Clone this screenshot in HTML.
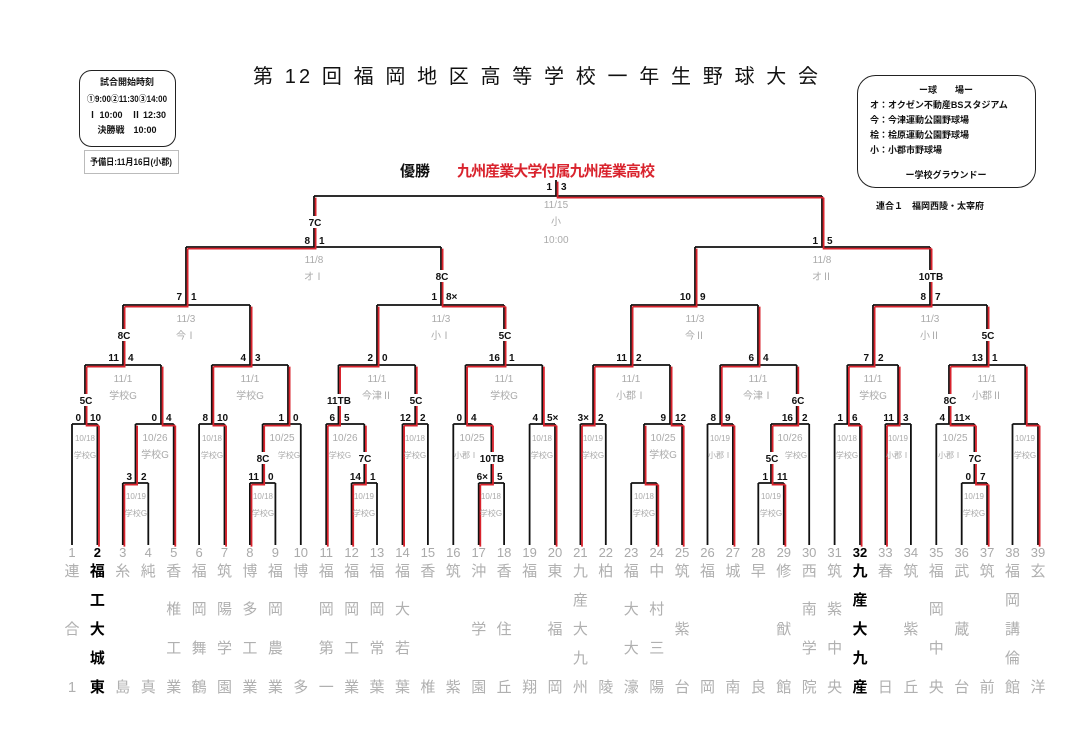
<!DOCTYPE html>
<html><head><meta charset="utf-8"><style>
html,body{margin:0;padding:0;background:#fff;}
svg{display:block;font-family:"Liberation Sans","Noto Sans CJK JP",sans-serif;}
.s{font-size:10px;font-weight:bold;fill:#111;}
.g{font-size:10px;fill:#aaa;text-anchor:middle;}
.gs{font-size:8px;fill:#aaa;text-anchor:middle;}
.lb{font-size:10px;font-weight:bold;fill:#111;text-anchor:middle;}
.n{font-size:13px;fill:#aaa;text-anchor:middle;}
.t{font-size:15px;fill:#b0b0b0;text-anchor:middle;}
.tb{font-size:15px;fill:#000;text-anchor:middle;font-weight:bold;}
.hb{font-size:9px;font-weight:bold;fill:#111;}
</style></head><body>
<svg width="1084" height="741" viewBox="0 0 1084 741">
<rect width="1084" height="741" fill="#fff"/>
<text x="253" y="83" font-size="20" fill="#111" textLength="565" lengthAdjust="spacing">第 12 回 福 岡 地 区 高 等 学 校 一 年 生 野 球 大 会</text>
<rect x="79.5" y="70.5" width="96" height="76" rx="12" fill="none" stroke="#222" stroke-width="1"/>
<text class="hb" x="127" y="85" text-anchor="middle">試合開始時刻</text>
<text class="hb" x="127" y="102" text-anchor="middle" font-size="8" textLength="80" lengthAdjust="spacingAndGlyphs">①9:00②11:30③14:00</text>
<text class="hb" x="127" y="118" text-anchor="middle" font-size="8">Ⅰ 10:00　Ⅱ 12:30</text>
<text class="hb" x="127" y="133" text-anchor="middle" font-size="8">決勝戦　10:00</text>
<rect x="84.5" y="150.5" width="94" height="23" fill="none" stroke="#bbb" stroke-width="1"/>
<text class="hb" x="90" y="165" font-size="8" textLength="82" lengthAdjust="spacingAndGlyphs">予備日:11月16日(小郡)</text>
<rect x="857.5" y="75.5" width="178" height="112" rx="18" fill="none" stroke="#222" stroke-width="1"/>
<text class="hb" x="946" y="93" text-anchor="middle">ー球　　場ー</text>
<text class="hb" x="870" y="108">オ：オクゼン不動産BSスタジアム</text>
<text class="hb" x="870" y="123">今：今津運動公園野球場</text>
<text class="hb" x="870" y="138">桧：桧原運動公園野球場</text>
<text class="hb" x="870" y="153">小：小郡市野球場</text>
<text class="hb" x="946" y="178" text-anchor="middle">ー学校グラウンドー</text>
<text class="hb" x="876" y="209">連合１　福岡西陵・太宰府</text>
<text x="400" y="176" font-size="15" font-weight="bold" fill="#111">優勝</text>
<text x="457" y="176" font-size="15" font-weight="bold" fill="#d9232d" textLength="198">九州産業大学付属九州産業高校</text>

<path fill="none" stroke="#111" stroke-width="1.8" d="M72 545V424 M97.4 545V424 M122.8 545V483 M148.3 545V483 M173.7 545V424 M199.1 545V424 M224.5 545V424 M249.9 545V483 M275.4 545V483 M300.8 545V424 M326.2 545V424 M351.6 545V483 M377 545V483 M402.5 545V424 M427.9 545V424 M453.3 545V424 M478.7 545V483 M504.1 545V483 M529.6 545V424 M555 545V424 M580.4 545V424 M605.8 545V424 M631.2 545V483 M656.7 545V483 M682.1 545V424 M707.5 545V424 M732.9 545V424 M758.3 545V483 M783.8 545V483 M809.2 545V424 M834.6 545V424 M860 545V424 M885.4 545V424 M910.9 545V424 M936.3 545V424 M961.7 545V483 M987.1 545V483 M1012.5 545V424 M1038 545V424
M122.8 483H148.3 M135.5 483V424 M249.9 483H275.4 M262.6 483V424 M351.6 483H377 M364.3 483V424 M478.7 483H504.1 M491.4 483V424 M631.2 483H656.7 M644 483V424 M758.3 483H783.8 M771 483V424 M961.7 483H987.1 M974.4 483V424
M72 424H97.4 M85 424V365 M135.5 424H173.7 M161 424V365 M199.1 424H224.5 M211.8 424V365 M262.6 424H300.8 M288 424V365 M326.2 424H364.3 M338.5 424V365 M402.5 424H427.9 M415.2 424V365 M453.3 424H491.4 M465.5 424V365 M529.6 424H555 M542.3 424V365 M580.4 424H605.8 M593.1 424V365 M644 424H682.1 M670 424V365 M707.5 424H732.9 M720.2 424V365 M771 424H809.2 M796.7 424V365 M834.6 424H860 M847.3 424V365 M885.4 424H910.9 M898.1 424V365 M936.3 424H974.4 M949 424V365 M1012.5 424H1038 M1025.2 424V365
M85 365H161 M123 365V305 M211.8 365H288 M250 365V305 M338.5 365H415.2 M377 365V305 M465.5 365H542.3 M504 365V305 M593.1 365H670 M631 365V305 M720.2 365H796.7 M758 365V305 M847.3 365H898.1 M873 365V305 M949 365H1025.2 M987 365V305
M123 305H250 M186 305V247 M377 305H504 M441 305V247 M631 305H758 M695 305V247 M873 305H987 M930 305V247
M186 247H441 M314 247V196 M695 247H930 M822 247V196 M314 196H822 M556 196V180"/>
<path fill="none" stroke="#d9232d" stroke-width="1.8" transform="translate(1.6,1.6)" d="M97.4 545V424 M122.8 545V483 M173.7 545V424 M224.5 545V424 M249.9 545V483 M326.2 545V424 M351.6 545V483 M402.5 545V424 M478.7 545V483 M555 545V424 M580.4 545V424 M656.7 545V483 M682.1 545V424 M732.9 545V424 M783.8 545V483 M860 545V424 M885.4 545V424 M987.1 545V483 M1038 545V424
M122.8 483H135.5V424 M249.9 483H262.6V424 M351.6 483H364.3V424 M478.7 483H491.4V424 M656.7 483H644V424 M783.8 483H771V424 M987.1 483H974.4V424
M97.4 424H85V365 M173.7 424H161V365 M224.5 424H211.8V365 M262.6 424H288V365 M326.2 424H338.5V365 M402.5 424H415.2V365 M491.4 424H465.5V365 M555 424H542.3V365 M580.4 424H593.1V365 M682.1 424H670V365 M732.9 424H720.2V365 M771 424H796.7V365 M860 424H847.3V365 M885.4 424H898.1V365 M974.4 424H949V365 M1038 424H1025.2V365
M85 365H123V305 M211.8 365H250V305 M338.5 365H377V305 M465.5 365H504V305 M593.1 365H631V305 M720.2 365H758V305 M847.3 365H873V305 M949 365H987V305
M123 305H186V247 M504 305H441V247 M631 305H695V247 M873 305H930V247
M186 247H314V196 M930 247H822V196 M822 196H556V180"/>

<g fill="#fff">
<rect x="76" y="394" width="20" height="12"/><rect x="326" y="394" width="26" height="12"/><rect x="406" y="394" width="20" height="12"/><rect x="788" y="394" width="20" height="12"/><rect x="940" y="394" width="20" height="12"/>
<rect x="253" y="452" width="20" height="12"/><rect x="355" y="452" width="20" height="12"/><rect x="479" y="452" width="26" height="12"/><rect x="762" y="452" width="20" height="12"/><rect x="965" y="452" width="20" height="12"/>
<rect x="114" y="329" width="20" height="12"/><rect x="495" y="329" width="20" height="12"/><rect x="978" y="329" width="20" height="12"/>
<rect x="432" y="270" width="20" height="12"/><rect x="917" y="270" width="28" height="12"/>
<rect x="305" y="216" width="20" height="12"/>
</g>
<g class="lb">
<text x="86" y="404">5C</text><text x="339" y="404">11TB</text><text x="416" y="404">5C</text><text x="798" y="404">6C</text><text x="950" y="404">8C</text>
<text x="263" y="462">8C</text><text x="365" y="462">7C</text><text x="492" y="462">10TB</text><text x="772" y="462">5C</text><text x="975" y="462">7C</text>
<text x="124" y="339">8C</text><text x="505" y="339">5C</text><text x="988" y="339">5C</text>
<text x="442" y="280">8C</text><text x="931" y="280">10TB</text>
<text x="315" y="226">7C</text>
</g>

<g class="s" text-anchor="end">
<text x="132" y="480">3</text><text x="259" y="480">11</text><text x="361" y="480">14</text><text x="488" y="480">6×</text><text x="768" y="480">1</text><text x="971" y="480">0</text>
<text x="81" y="421">0</text><text x="157" y="421">0</text><text x="208" y="421">8</text><text x="284" y="421">1</text><text x="335" y="421">6</text><text x="411" y="421">12</text><text x="462" y="421">0</text><text x="538" y="421">4</text><text x="589" y="421">3×</text><text x="666" y="421">9</text><text x="716" y="421">8</text><text x="793" y="421">16</text><text x="843" y="421">1</text><text x="894" y="421">11</text><text x="945" y="421">4</text>
<text x="119" y="361">11</text><text x="246" y="361">4</text><text x="373" y="361">2</text><text x="500" y="361">16</text><text x="627" y="361">11</text><text x="754" y="361">6</text><text x="869" y="361">7</text><text x="983" y="361">13</text>
<text x="182" y="300">7</text><text x="437" y="300">1</text><text x="691" y="300">10</text><text x="926" y="300">8</text>
<text x="310" y="244">8</text><text x="818" y="244">1</text>
<text x="552" y="190">1</text>
</g>
<g class="s" text-anchor="start">
<text x="141" y="480">2</text><text x="268" y="480">0</text><text x="370" y="480">1</text><text x="497" y="480">5</text><text x="777" y="480">11</text><text x="980" y="480">7</text>
<text x="90" y="421">10</text><text x="166" y="421">4</text><text x="217" y="421">10</text><text x="293" y="421">0</text><text x="344" y="421">5</text><text x="420" y="421">2</text><text x="471" y="421">4</text><text x="547" y="421">5×</text><text x="598" y="421">2</text><text x="675" y="421">12</text><text x="725" y="421">9</text><text x="802" y="421">2</text><text x="852" y="421">6</text><text x="903" y="421">3</text><text x="954" y="421">11×</text>
<text x="128" y="361">4</text><text x="255" y="361">3</text><text x="382" y="361">0</text><text x="509" y="361">1</text><text x="636" y="361">2</text><text x="763" y="361">4</text><text x="878" y="361">2</text><text x="992" y="361">1</text>
<text x="191" y="300">1</text><text x="446" y="300">8×</text><text x="700" y="300">9</text><text x="935" y="300">7</text>
<text x="319" y="244">1</text><text x="827" y="244">5</text>
<text x="561" y="190">3</text>
</g>

<g class="g">
<text x="556" y="208">11/15</text><text x="556" y="225">小</text><text x="556" y="243">10:00</text>
<text x="314" y="263">11/8</text><text x="314" y="280">オⅠ</text><text x="822" y="263">11/8</text><text x="822" y="280">オⅡ</text>
<text x="186" y="322">11/3</text><text x="186" y="339">今Ⅰ</text><text x="441" y="322">11/3</text><text x="441" y="339">小Ⅰ</text><text x="695" y="322">11/3</text><text x="695" y="339">今Ⅱ</text><text x="930" y="322">11/3</text><text x="930" y="339">小Ⅱ</text>
<text x="123" y="382">11/1</text><text x="123" y="399">学校G</text>
<text x="250" y="382">11/1</text><text x="250" y="399">学校G</text>
<text x="377" y="382">11/1</text><text x="377" y="399">今津Ⅱ</text>
<text x="504" y="382">11/1</text><text x="504" y="399">学校G</text>
<text x="631" y="382">11/1</text><text x="631" y="399">小郡Ⅰ</text>
<text x="758" y="382">11/1</text><text x="758" y="399">今津Ⅰ</text>
<text x="873" y="382">11/1</text><text x="873" y="399">学校G</text>
<text x="987" y="382">11/1</text><text x="987" y="399">小郡Ⅱ</text>
<text x="155" y="441">10/26</text><text x="155" y="458">学校G</text>
<text x="282" y="441">10/25</text>
<text x="345" y="441">10/26</text>
<text x="472" y="441">10/25</text>
<text x="663" y="441">10/25</text><text x="663" y="458">学校G</text>
<text x="790" y="441">10/26</text>
<text x="955" y="441">10/25</text>
</g>
<g class="gs">
<text x="85" y="441">10/18</text><text x="85" y="458">学校G</text>
<text x="212" y="441">10/18</text><text x="212" y="458">学校G</text>
<text x="289" y="458">学校G</text>
<text x="340" y="458">学校G</text>
<text x="415" y="441">10/18</text><text x="415" y="458">学校G</text>
<text x="466" y="458">小郡Ⅰ</text>
<text x="542" y="441">10/18</text><text x="542" y="458">学校G</text>
<text x="593" y="441">10/19</text><text x="593" y="458">学校G</text>
<text x="720" y="441">10/19</text><text x="720" y="458">小郡Ⅰ</text>
<text x="796" y="458">学校G</text>
<text x="847" y="441">10/18</text><text x="847" y="458">学校G</text>
<text x="898" y="441">10/19</text><text x="898" y="458">小郡Ⅰ</text>
<text x="950" y="458">小郡Ⅰ</text>
<text x="1025" y="441">10/19</text><text x="1025" y="458">学校G</text>
<text x="136" y="499">10/19</text><text x="136" y="516">学校G</text>
<text x="263" y="499">10/18</text><text x="263" y="516">学校G</text>
<text x="364" y="499">10/19</text><text x="364" y="516">学校G</text>
<text x="491" y="499">10/18</text><text x="491" y="516">学校G</text>
<text x="644" y="499">10/18</text><text x="644" y="516">学校G</text>
<text x="771" y="499">10/19</text><text x="771" y="516">学校G</text>
<text x="974" y="499">10/19</text><text x="974" y="516">学校G</text>
</g>

<g class="n">
<text x="72" y="557">1</text><text x="97.4" y="557" fill="#000" font-weight="bold">2</text><text x="122.8" y="557">3</text><text x="148.3" y="557">4</text><text x="173.7" y="557">5</text><text x="199.1" y="557">6</text><text x="224.5" y="557">7</text><text x="249.9" y="557">8</text><text x="275.4" y="557">9</text><text x="300.8" y="557">10</text><text x="326.2" y="557">11</text><text x="351.6" y="557">12</text><text x="377" y="557">13</text><text x="402.5" y="557">14</text><text x="427.9" y="557">15</text><text x="453.3" y="557">16</text><text x="478.7" y="557">17</text><text x="504.1" y="557">18</text><text x="529.6" y="557">19</text><text x="555" y="557">20</text><text x="580.4" y="557">21</text><text x="605.8" y="557">22</text><text x="631.2" y="557">23</text><text x="656.7" y="557">24</text><text x="682.1" y="557">25</text><text x="707.5" y="557">26</text><text x="732.9" y="557">27</text><text x="758.3" y="557">28</text><text x="783.8" y="557">29</text><text x="809.2" y="557">30</text><text x="834.6" y="557">31</text><text x="860" y="557" fill="#000" font-weight="bold">32</text><text x="885.4" y="557">33</text><text x="910.9" y="557">34</text><text x="936.3" y="557">35</text><text x="961.7" y="557">36</text><text x="987.1" y="557">37</text><text x="1012.5" y="557">38</text><text x="1038" y="557">39</text>
</g>

<g class="t">
<text x="72"><tspan x="72" y="576">連</tspan><tspan x="72" y="634">合</tspan><tspan x="72" y="692">1</tspan></text>
<text x="122.8"><tspan x="122.8" y="576">糸</tspan><tspan x="122.8" y="692">島</tspan></text>
<text x="148.3"><tspan x="148.3" y="576">純</tspan><tspan x="148.3" y="692">真</tspan></text>
<text x="173.7"><tspan x="173.7" y="576">香</tspan><tspan x="173.7" y="614">椎</tspan><tspan x="173.7" y="653">工</tspan><tspan x="173.7" y="692">業</tspan></text>
<text x="199.1"><tspan x="199.1" y="576">福</tspan><tspan x="199.1" y="614">岡</tspan><tspan x="199.1" y="653">舞</tspan><tspan x="199.1" y="692">鶴</tspan></text>
<text x="224.5"><tspan x="224.5" y="576">筑</tspan><tspan x="224.5" y="614">陽</tspan><tspan x="224.5" y="653">学</tspan><tspan x="224.5" y="692">園</tspan></text>
<text x="249.9"><tspan x="249.9" y="576">博</tspan><tspan x="249.9" y="614">多</tspan><tspan x="249.9" y="653">工</tspan><tspan x="249.9" y="692">業</tspan></text>
<text x="275.4"><tspan x="275.4" y="576">福</tspan><tspan x="275.4" y="614">岡</tspan><tspan x="275.4" y="653">農</tspan><tspan x="275.4" y="692">業</tspan></text>
<text x="300.8"><tspan x="300.8" y="576">博</tspan><tspan x="300.8" y="692">多</tspan></text>
<text x="326.2"><tspan x="326.2" y="576">福</tspan><tspan x="326.2" y="614">岡</tspan><tspan x="326.2" y="653">第</tspan><tspan x="326.2" y="692">一</tspan></text>
<text x="351.6"><tspan x="351.6" y="576">福</tspan><tspan x="351.6" y="614">岡</tspan><tspan x="351.6" y="653">工</tspan><tspan x="351.6" y="692">業</tspan></text>
<text x="377"><tspan x="377" y="576">福</tspan><tspan x="377" y="614">岡</tspan><tspan x="377" y="653">常</tspan><tspan x="377" y="692">葉</tspan></text>
<text x="402.5"><tspan x="402.5" y="576">福</tspan><tspan x="402.5" y="614">大</tspan><tspan x="402.5" y="653">若</tspan><tspan x="402.5" y="692">葉</tspan></text>
<text x="427.9"><tspan x="427.9" y="576">香</tspan><tspan x="427.9" y="692">椎</tspan></text>
<text x="453.3"><tspan x="453.3" y="576">筑</tspan><tspan x="453.3" y="692">紫</tspan></text>
<text x="478.7"><tspan x="478.7" y="576">沖</tspan><tspan x="478.7" y="634">学</tspan><tspan x="478.7" y="692">園</tspan></text>
<text x="504.1"><tspan x="504.1" y="576">香</tspan><tspan x="504.1" y="634">住</tspan><tspan x="504.1" y="692">丘</tspan></text>
<text x="529.6"><tspan x="529.6" y="576">福</tspan><tspan x="529.6" y="692">翔</tspan></text>
<text x="555"><tspan x="555" y="576">東</tspan><tspan x="555" y="634">福</tspan><tspan x="555" y="692">岡</tspan></text>
<text x="580.4"><tspan x="580.4" y="576">九</tspan><tspan x="580.4" y="605">産</tspan><tspan x="580.4" y="634">大</tspan><tspan x="580.4" y="663">九</tspan><tspan x="580.4" y="692">州</tspan></text>
<text x="605.8"><tspan x="605.8" y="576">柏</tspan><tspan x="605.8" y="692">陵</tspan></text>
<text x="631.2"><tspan x="631.2" y="576">福</tspan><tspan x="631.2" y="614">大</tspan><tspan x="631.2" y="653">大</tspan><tspan x="631.2" y="692">濠</tspan></text>
<text x="656.7"><tspan x="656.7" y="576">中</tspan><tspan x="656.7" y="614">村</tspan><tspan x="656.7" y="653">三</tspan><tspan x="656.7" y="692">陽</tspan></text>
<text x="682.1"><tspan x="682.1" y="576">筑</tspan><tspan x="682.1" y="634">紫</tspan><tspan x="682.1" y="692">台</tspan></text>
<text x="707.5"><tspan x="707.5" y="576">福</tspan><tspan x="707.5" y="692">岡</tspan></text>
<text x="732.9"><tspan x="732.9" y="576">城</tspan><tspan x="732.9" y="692">南</tspan></text>
<text x="758.3"><tspan x="758.3" y="576">早</tspan><tspan x="758.3" y="692">良</tspan></text>
<text x="783.8"><tspan x="783.8" y="576">修</tspan><tspan x="783.8" y="634">猷</tspan><tspan x="783.8" y="692">館</tspan></text>
<text x="809.2"><tspan x="809.2" y="576">西</tspan><tspan x="809.2" y="614">南</tspan><tspan x="809.2" y="653">学</tspan><tspan x="809.2" y="692">院</tspan></text>
<text x="834.6"><tspan x="834.6" y="576">筑</tspan><tspan x="834.6" y="614">紫</tspan><tspan x="834.6" y="653">中</tspan><tspan x="834.6" y="692">央</tspan></text>
<text x="885.4"><tspan x="885.4" y="576">春</tspan><tspan x="885.4" y="692">日</tspan></text>
<text x="910.9"><tspan x="910.9" y="576">筑</tspan><tspan x="910.9" y="634">紫</tspan><tspan x="910.9" y="692">丘</tspan></text>
<text x="936.3"><tspan x="936.3" y="576">福</tspan><tspan x="936.3" y="614">岡</tspan><tspan x="936.3" y="653">中</tspan><tspan x="936.3" y="692">央</tspan></text>
<text x="961.7"><tspan x="961.7" y="576">武</tspan><tspan x="961.7" y="634">蔵</tspan><tspan x="961.7" y="692">台</tspan></text>
<text x="987.1"><tspan x="987.1" y="576">筑</tspan><tspan x="987.1" y="692">前</tspan></text>
<text x="1012.5"><tspan x="1012.5" y="576">福</tspan><tspan x="1012.5" y="605">岡</tspan><tspan x="1012.5" y="634">講</tspan><tspan x="1012.5" y="663">倫</tspan><tspan x="1012.5" y="692">館</tspan></text>
<text x="1038"><tspan x="1038" y="576">玄</tspan><tspan x="1038" y="692">洋</tspan></text>
</g>
<g class="tb">
<text x="97.4"><tspan x="97.4" y="576">福</tspan><tspan x="97.4" y="605">工</tspan><tspan x="97.4" y="634">大</tspan><tspan x="97.4" y="663">城</tspan><tspan x="97.4" y="692">東</tspan></text>
<text x="860"><tspan x="860" y="576">九</tspan><tspan x="860" y="605">産</tspan><tspan x="860" y="634">大</tspan><tspan x="860" y="663">九</tspan><tspan x="860" y="692">産</tspan></text>
</g>
</svg>
</body></html>
